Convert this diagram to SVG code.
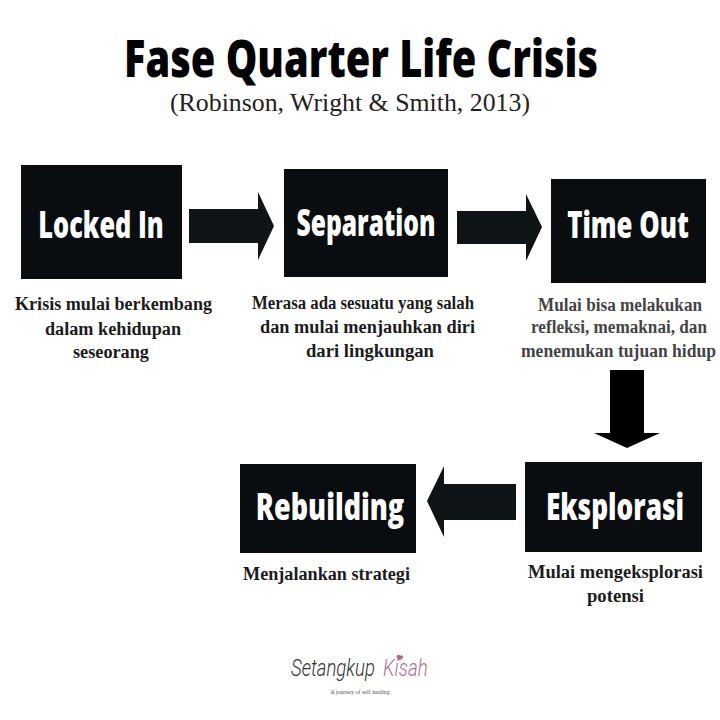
<svg xmlns="http://www.w3.org/2000/svg" width="720" height="720" viewBox="0 0 720 720">
<style>
.box{fill:#090d10}
.arrow{fill:#0f1417}
.t{font-family:"Open Sans","DejaVu Sans",sans-serif;font-weight:800;text-anchor:middle}
.lbl{fill:#fff;font-size:37px}
.d{font-family:"Liberation Serif","DejaVu Serif",serif;font-size:18px;font-weight:700;text-anchor:middle;fill:#1c1c1c}
.m{fill:#444}
.logo{font-family:Roboto,sans-serif;font-size:24px;font-weight:300;font-style:italic}
</style>
<rect width="720" height="720" fill="#fff"/>
<g id="title">
<text class="t" transform="translate(361 77) scale(.7 1)" font-size="52" fill="#000" textLength="677" lengthAdjust="spacingAndGlyphs">Fase Quarter Life Crisis</text>
<text x="350" y="111" font-family="Liberation Serif,serif" font-size="24.5" text-anchor="middle" fill="#222" textLength="360" lengthAdjust="spacingAndGlyphs">(Robinson, Wright &amp; Smith, 2013)</text>
</g>
<g id="connectors">
<polygon class="arrow" points="189,209 258,209 258,192 274,226 258,260 258,243 189,243"/>
<polygon class="arrow" points="457,211 526,211 526,194 542,227 526,261 526,244 457,244"/>
<polygon fill="#000" points="610,370 644,370 644,433 660,433 627,448 594,433 610,433"/>
<polygon class="arrow" points="516,484 444,484 444,466 427,501 444,537 444,520 516,520"/>
</g>
<g id="locked-in">
<rect class="box" x="21" y="165" width="161" height="114"/>
<text class="t lbl" transform="translate(101 238) scale(.72 1)" textLength="174" lengthAdjust="spacingAndGlyphs">Locked In</text>
<text class="d" x="113.500" y="310" textLength="197" lengthAdjust="spacingAndGlyphs">Krisis mulai berkembang</text>
<text class="d" x="113" y="335" textLength="136" lengthAdjust="spacingAndGlyphs">dalam kehidupan</text>
<text class="d" x="111" y="358" textLength="76" lengthAdjust="spacingAndGlyphs">seseorang</text>
</g>
<g id="separation">
<rect class="box" x="284" y="169" width="164" height="108"/>
<text class="t lbl" transform="translate(366 236) scale(.72 1)" textLength="193" lengthAdjust="spacingAndGlyphs">Separation</text>
<text class="d" x="363" y="309" textLength="222" lengthAdjust="spacingAndGlyphs">Merasa ada sesuatu yang salah</text>
<text class="d" x="367.500" y="333" textLength="215" lengthAdjust="spacingAndGlyphs">dan mulai menjauhkan diri</text>
<text class="d" x="370" y="357" textLength="128" lengthAdjust="spacingAndGlyphs">dari lingkungan</text>
</g>
<g id="time-out">
<rect class="box" x="551" y="179" width="155" height="104"/>
<text class="t lbl" transform="translate(628 238) scale(.72 1)" textLength="169" lengthAdjust="spacingAndGlyphs">Time Out</text>
<text class="d m" x="620" y="311" textLength="164" lengthAdjust="spacingAndGlyphs">Mulai bisa melakukan</text>
<text class="d m" x="619" y="333" textLength="176" lengthAdjust="spacingAndGlyphs">refleksi, memaknai, dan</text>
<text class="d m" x="618.500" y="357" textLength="195" lengthAdjust="spacingAndGlyphs">menemukan tujuan hidup</text>
</g>
<g id="eksplorasi">
<rect class="box" x="525" y="462" width="177" height="90"/>
<text class="t lbl" transform="translate(615 520) scale(.72 1)" textLength="192" lengthAdjust="spacingAndGlyphs">Eksplorasi</text>
<text class="d" x="615.500" y="578" textLength="175" lengthAdjust="spacingAndGlyphs">Mulai mengeksplorasi</text>
<text class="d" x="615.500" y="602" textLength="57" lengthAdjust="spacingAndGlyphs">potensi</text>
</g>
<g id="rebuilding">
<rect class="box" x="240" y="464" width="176" height="89"/>
<text class="t lbl" transform="translate(330 520) scale(.72 1)" textLength="206" lengthAdjust="spacingAndGlyphs">Rebuilding</text>
<text class="d" x="326.500" y="580" textLength="167" lengthAdjust="spacingAndGlyphs">Menjalankan strategi</text>
</g>
<g id="logo">
<text class="logo" transform="translate(291 676) scale(.8 1)" fill="#333" textLength="105" lengthAdjust="spacingAndGlyphs">Setangkup</text>
<text class="logo" transform="translate(383 676) scale(.8 1)" fill="#b0708f" textLength="56" lengthAdjust="spacingAndGlyphs">Kisah</text>
<path d="M397 656c1-2 3-1 3 0c1-1 3-1 3 1c0 1-2 3-4 3c-1-1-3-2-2-4z" fill="#c0607f"/>
<text x="360" y="694" font-family="Liberation Serif,serif" font-size="6" text-anchor="middle" fill="#555">A journey of self healing</text>
</g>
</svg>
